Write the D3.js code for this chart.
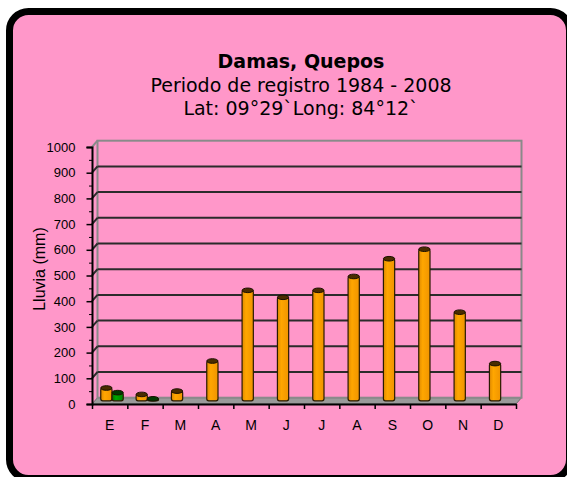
<!doctype html>
<html>
<head>
<meta charset="utf-8">
<script src="https://cdnjs.cloudflare.com/ajax/libs/d3/7.8.5/d3.min.js"></script>
<style>
body { margin: 0; background: #fff; overflow: hidden; }
svg { display: block; }
.title { font-family: "DejaVu Sans", Verdana, sans-serif; font-size: 19px; fill: #000; }
.axis text { font-family: "Liberation Sans", Arial, sans-serif; fill: #000; }
.grid { stroke: #2b2b2b; stroke-width: 2px; fill: none; }
.wall { stroke: #8a8a8a; stroke-width: 2px; fill: none; }
</style>
</head>
<body>
<svg width="567" height="477"></svg>
<script>
var meses = ["E", "F", "M", "A", "M", "J", "J", "A", "S", "O", "N", "D"];
var lluvia = [50, 25, 38, 155, 430, 403, 430, 484, 553, 590, 345, 145];
var serie2 = [32, 8, null, null, null, null, null, null, null, null, null, null];
var yTicks = [0, 100, 200, 300, 400, 500, 600, 700, 800, 900, 1000];
var yMinor = [50, 150, 250, 350, 450, 550, 650, 750, 850, 950];
var titulo = ["Damas, Quepos", "Periodo de registro 1984 - 2008", "Lat: 09°29`Long: 84°12`"];

var svg = d3.select("svg");

// marco rosado
svg.append("rect")
  .attr("x", 9.5).attr("y", 11.5)
  .attr("width", 560).attr("height", 467)
  .attr("rx", 19).attr("ry", 19)
  .attr("fill", "#ff97c9")
  .attr("stroke", "#000").attr("stroke-width", 7);

// titulo
svg.selectAll("text.title")
  .data(titulo)
  .enter()
  .append("text")
  .attr("class", "title")
  .attr("x", 301)
  .attr("y", (d, i) => 68 + i * 23.5)
  .attr("text-anchor", "middle")
  .style("font-weight", (d, i) => i == 0 ? "bold" : "normal")
  .text(d => d);

var dx = 5.5, dy = -6.3;
var left = 92, right = 516;

var yFront = d3.scaleLinear().domain([0, 1000]).range([404, 147]);
var yBack = d3.scaleLinear().domain([0, 1000]).range([404 + dy, 147 + dy]);
var yBar = d3.scaleLinear().domain([0, 1000]).range([404 + dy / 2, 147 + dy / 2]);

var xFront = d3.scaleBand().domain(d3.range(meses.length)).range([left, right]);
var xBar = d3.scaleBand().domain(d3.range(meses.length)).range([left + dx / 2, right + dx / 2]);
var xSerie = d3.scaleBand().domain(["lluvia", "serie2"]).range([6, 28.5]);
var xTicks = d3.scaleLinear().domain([0, meses.length]).range([left, right]);

// gradientes de los cilindros
var defs = svg.append("defs");
function grad(id, c0, c1, c2) {
  var g = defs.append("linearGradient").attr("id", id)
    .attr("x1", 0).attr("x2", 1).attr("y1", 0).attr("y2", 0);
  g.append("stop").attr("offset", "0%").attr("stop-color", c0);
  g.append("stop").attr("offset", "35%").attr("stop-color", c1);
  g.append("stop").attr("offset", "100%").attr("stop-color", c2);
}
grad("gNar", "#e08a00", "#ffa600", "#f09400");
grad("gVer", "#006e00", "#00a800", "#008000");

// piso
svg.append("polygon")
  .attr("points", [[left, yFront(0)], [right, yFront(0)], [right + dx, yBack(0)], [left + dx, yBack(0)]].join(" "))
  .attr("fill", "#9a9a9a").attr("stroke", "#6e6e6e").attr("stroke-width", 1);

// pared del fondo
svg.append("rect")
  .attr("class", "wall")
  .attr("x", left + dx).attr("y", yBack(1000))
  .attr("width", right - left).attr("height", yBack(0) - yBack(1000));

// lineas de division
var g = svg.append("g");
g.selectAll("line.grid")
  .data(yTicks.filter(v => v > 0 && v < 1000))
  .enter()
  .append("line")
  .attr("class", "grid")
  .attr("x1", left + dx).attr("x2", right + dx)
  .attr("y1", d => yBack(d)).attr("y2", d => yBack(d));
g.selectAll("line.slant")
  .data(yTicks.filter(v => v > 0))
  .enter()
  .append("line")
  .attr("class", d => d == 1000 ? "wall" : "grid")
  .attr("x1", left).attr("x2", left + dx)
  .attr("y1", d => yFront(d)).attr("y2", d => yBack(d));

// cilindros
function cilindros(valores, serie, fill, cap) {
  var datos = valores.map((v, i) => ({ i: i, v: v })).filter(d => d.v != null);
  var w = xSerie.bandwidth();
  var gb = svg.append("g");
  gb.selectAll("rect")
    .data(datos)
    .enter()
    .append("rect")
    .attr("x", d => xBar(d.i) + xSerie(serie))
    .attr("y", d => yBar(d.v))
    .attr("width", w)
    .attr("height", d => yBar(0) - yBar(d.v))
    .attr("rx", 2)
    .attr("fill", fill)
    .attr("stroke", "#2a1a00").attr("stroke-width", 1.2);
  gb.selectAll("ellipse")
    .data(datos)
    .enter()
    .append("ellipse")
    .attr("cx", d => xBar(d.i) + xSerie(serie) + w / 2)
    .attr("cy", d => yBar(d.v))
    .attr("rx", w / 2)
    .attr("ry", 2.3)
    .attr("fill", cap)
    .attr("stroke", "#1a1000").attr("stroke-width", 1);
}
cilindros(lluvia, "lluvia", "url(#gNar)", "#4a2c00");
cilindros(serie2, "serie2", "url(#gVer)", "#003a00");

// eje y
var ay = svg.append("g").attr("class", "axis")
  .attr("transform", "translate(" + left + ",0)")
  .call(d3.axisLeft(yFront).tickValues(yTicks).tickSize(5.5).tickPadding(11).tickFormat(d3.format("d")));
ay.selectAll("text").style("font-size", "13px");
ay.select(".domain").attr("stroke-width", 2);
ay.selectAll(".tick line").attr("stroke-width", 1.5);
svg.append("g").attr("class", "axis")
  .attr("transform", "translate(" + left + ",0)")
  .call(d3.axisLeft(yFront).tickValues(yMinor).tickSize(3).tickFormat(""))
  .call(s => s.select(".domain").remove());

// eje x
var ax = svg.append("g").attr("class", "axis")
  .attr("transform", "translate(0," + yFront(0) + ")")
  .call(d3.axisBottom(xTicks).tickValues(d3.range(meses.length + 1)).tickSize(5).tickSizeOuter(0).tickFormat(""));
ax.select(".domain").attr("stroke-width", 2);
ax.selectAll(".tick line").attr("stroke-width", 1.5);
var axl = svg.append("g").attr("class", "axis")
  .attr("transform", "translate(0," + yFront(0) + ")")
  .call(d3.axisBottom(xFront).tickSize(0).tickPadding(16).tickFormat(i => meses[i]));
axl.select(".domain").remove();
axl.selectAll("text").style("font-size", "14px");

// titulo eje y
svg.append("text")
  .attr("transform", "translate(45,269) rotate(-90)")
  .attr("text-anchor", "middle")
  .style("font-family", "'Liberation Sans', Arial, sans-serif")
  .style("font-size", "16px")
  .text("Lluvia (mm)");
</script>
</body>
</html>
